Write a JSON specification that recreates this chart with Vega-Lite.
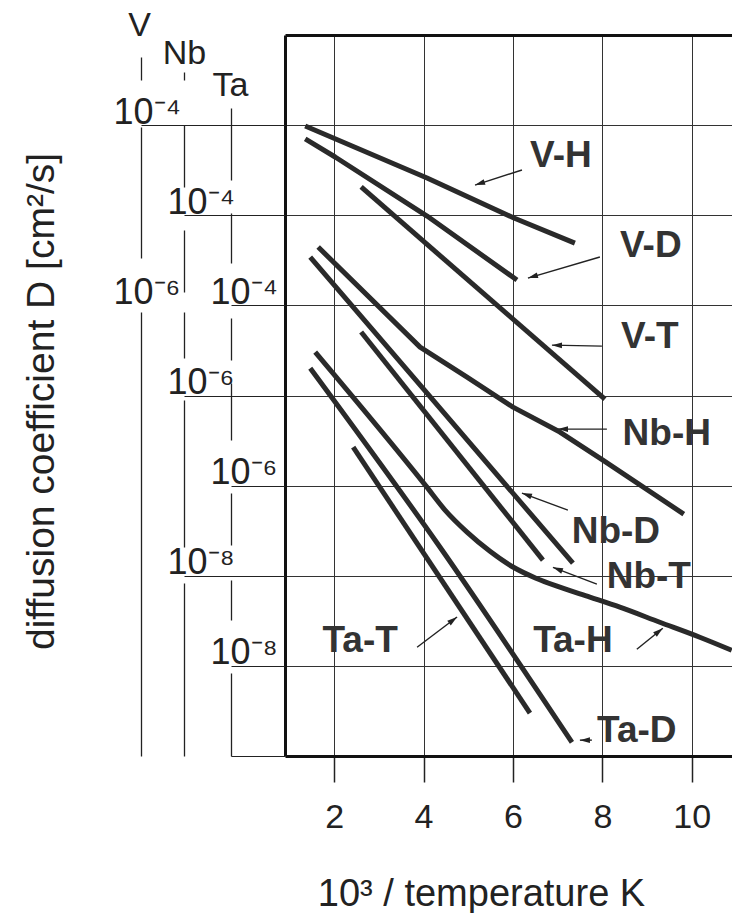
{
  "$schema": "https://vega.github.io/schema/vega-lite/v6.json",
  "width": 447,
  "height": 721,
  "autosize": {"type": "none"},
  "padding": {"left": 285, "top": 35, "right": 0, "bottom": 157},
  "background": "white",
  "config": {
    "view": {"stroke": null},
    "font": "Liberation Sans",
    "axis": {"labelFont": "Liberation Sans", "titleFont": "Liberation Sans", "labelOverlap": false, "labelBound": false, "labelFlush": false}
  },
  "datasets": {
    "curves": [
      {"metal": "V", "pair": "V-H", "x": 1.352, "D": 9.77e-5},
      {"metal": "V", "pair": "V-H", "x": 4.078, "D": 2.59e-5},
      {"metal": "V", "pair": "V-H", "x": 6.022, "D": 9.31e-6},
      {"metal": "V", "pair": "V-H", "x": 7.385, "D": 4.91e-6},
      {"metal": "V", "pair": "V-D", "x": 1.352, "D": 7.02e-5},
      {"metal": "V", "pair": "V-D", "x": 2.022, "D": 4.43e-5},
      {"metal": "V", "pair": "V-D", "x": 4.078, "D": 9.79e-6},
      {"metal": "V", "pair": "V-D", "x": 6.089, "D": 1.91e-6},
      {"metal": "V", "pair": "V-T", "x": 2.603, "D": 2.06e-5},
      {"metal": "V", "pair": "V-T", "x": 8.056, "D": 9.12e-8},
      {"metal": "Nb", "pair": "Nb-H", "x": 1.642, "D": 4.44e-5},
      {"metal": "Nb", "pair": "Nb-H", "x": 3.922, "D": 3.44e-6},
      {"metal": "Nb", "pair": "Nb-H", "x": 4.972, "D": 1.6e-6},
      {"metal": "Nb", "pair": "Nb-H", "x": 6.0, "D": 7.43e-7},
      {"metal": "Nb", "pair": "Nb-H", "x": 7.05, "D": 3.93e-7},
      {"metal": "Nb", "pair": "Nb-H", "x": 8.011, "D": 1.92e-7},
      {"metal": "Nb", "pair": "Nb-H", "x": 9.821, "D": 4.83e-8},
      {"metal": "Nb", "pair": "Nb-D", "x": 1.464, "D": 3.44e-5},
      {"metal": "Nb", "pair": "Nb-D", "x": 4.078, "D": 1.06e-6},
      {"metal": "Nb", "pair": "Nb-D", "x": 7.341, "D": 1.38e-8},
      {"metal": "Nb", "pair": "Nb-T", "x": 2.603, "D": 5.06e-6},
      {"metal": "Nb", "pair": "Nb-T", "x": 6.67, "D": 1.49e-8},
      {"metal": "Ta", "pair": "Ta-H", "x": 1.575, "D": 3.03e-5},
      {"metal": "Ta", "pair": "Ta-H", "x": 4.056, "D": 9.86e-7},
      {"metal": "Ta", "pair": "Ta-H", "x": 4.48, "D": 5.35e-7},
      {"metal": "Ta", "pair": "Ta-H", "x": 4.972, "D": 3.05e-7},
      {"metal": "Ta", "pair": "Ta-H", "x": 5.486, "D": 1.87e-7},
      {"metal": "Ta", "pair": "Ta-H", "x": 6.0, "D": 1.25e-7},
      {"metal": "Ta", "pair": "Ta-H", "x": 6.514, "D": 9.39e-8},
      {"metal": "Ta", "pair": "Ta-H", "x": 7.05, "D": 7.46e-8},
      {"metal": "Ta", "pair": "Ta-H", "x": 7.721, "D": 5.79e-8},
      {"metal": "Ta", "pair": "Ta-H", "x": 8.391, "D": 4.48e-8},
      {"metal": "Ta", "pair": "Ta-H", "x": 9.285, "D": 3.05e-8},
      {"metal": "Ta", "pair": "Ta-H", "x": 10.179, "D": 2.08e-8},
      {"metal": "Ta", "pair": "Ta-H", "x": 10.894, "D": 1.49e-8},
      {"metal": "Ta", "pair": "Ta-D", "x": 1.464, "D": 2.01e-5},
      {"metal": "Ta", "pair": "Ta-D", "x": 4.369, "D": 2.07e-7},
      {"metal": "Ta", "pair": "Ta-D", "x": 7.318, "D": 1.42e-9},
      {"metal": "Ta", "pair": "Ta-T", "x": 2.425, "D": 2.67e-6},
      {"metal": "Ta", "pair": "Ta-T", "x": 6.38, "D": 2.99e-9}
    ],
    "labels": [
      {"label": "V-H", "x": 7.073, "y": 3.43e-5},
      {"label": "V-D", "x": 9.084, "y": 3.44e-6},
      {"label": "V-T", "x": 9.061, "y": 3.36e-7},
      {"label": "Nb-H", "x": 9.441, "y": 2.81e-8},
      {"label": "Nb-D", "x": 8.302, "y": 2.3e-9},
      {"label": "Nb-T", "x": 9.039, "y": 7.28e-10},
      {"label": "Ta-T", "x": 2.581, "y": 1.42e-10},
      {"label": "Ta-H", "x": 7.341, "y": 1.42e-10},
      {"label": "Ta-D", "x": 8.771, "y": 1.42e-11}
    ],
    "arrows": [
      {"pair": "V-H", "x": 6.201, "y": 3.18e-5, "x2": 5.151, "y2": 2.16e-5, "dir": 252},
      {"pair": "V-D", "x": 7.944, "y": 3.44e-6, "x2": 6.335, "y2": 2.01e-6, "dir": 254},
      {"pair": "V-T", "x": 7.989, "y": 3.53e-7, "x2": 6.872, "y2": 3.62e-7, "dir": 271},
      {"pair": "Nb-H", "x": 8.101, "y": 4.24e-8, "x2": 7.006, "y2": 4.24e-8, "dir": 270},
      {"pair": "Nb-D", "x": 7.229, "y": 5.35e-9, "x2": 6.201, "y2": 8.26e-9, "dir": 290},
      {"pair": "Nb-T", "x": 7.877, "y": 8.07e-10, "x2": 6.894, "y2": 1.24e-9, "dir": 291},
      {"pair": "Ta-H", "x": 8.771, "y": 1.53e-10, "x2": 9.352, "y2": 2.62e-10, "dir": 51},
      {"pair": "Ta-T", "x": 3.855, "y": 1.61e-10, "x2": 4.749, "y2": 3.48e-10, "dir": 53},
      {"pair": "Ta-D", "x": 7.765, "y": 1.5e-11, "x2": 7.497, "y2": 1.5e-11, "dir": 270}
    ]
  },
  "layer": [
    {
      "data": {"name": "labels"},
      "mark": {"type": "text", "fontSize": 37, "fontWeight": "bold", "fill": "#333", "align": "center", "baseline": "alphabetic"},
      "encoding": {
        "x": {
          "field": "x", "type": "quantitative",
          "scale": {"domain": [0.9, 10.9], "nice": false, "zero": false},
          "axis": {
            "orient": "bottom", "values": [2, 4, 6, 8, 10],
            "domain": true, "domainWidth": 3, "domainColor": "#111",
            "ticks": true, "tickSize": 26, "tickWidth": 1.5, "tickColor": "#222",
            "labels": true, "labelFontSize": 34, "labelColor": "#222", "labelPadding": 45, "labelBaseline": "alphabetic",
            "grid": true, "gridColor": "#333", "gridWidth": 1,
            "title": "10³ / temperature K", "titleFontSize": 38, "titleFontWeight": "normal", "titleColor": "#222",
            "titleX": 196, "titleY": 149, "titleAlign": "center", "titleBaseline": "alphabetic"
          }
        },
        "y": {
          "field": "y", "type": "quantitative",
          "scale": {"type": "log", "domain": [1e-11, 1e-3], "nice": false},
          "axis": {
            "orient": "left", "offset": 0,
            "domain": true, "domainWidth": 3, "domainColor": "#111",
            "ticks": false, "labels": false,
            "grid": true, "gridColor": "#333", "gridWidth": 1,
            "values": [1e-4, 1e-5, 1e-6, 1e-7, 1e-8, 1e-9, 1e-10],
            "title": "diffusion coefficient D [cm²/s]", "titleFontSize": 39, "titleFontWeight": "normal", "titleColor": "#222",
            "titleAngle": 270, "titleX": -232, "titleY": 366, "titleAlign": "center", "titleBaseline": "alphabetic"
          }
        },
        "text": {"field": "label"}
      }
    },
    {
      "data": {"name": "arrows"},
      "mark": {"type": "rule", "stroke": "#222", "strokeWidth": 1.4},
      "encoding": {
        "x": {"field": "x", "type": "quantitative", "scale": {"domain": [0.9, 10.9], "nice": false, "zero": false}, "axis": null},
        "x2": {"field": "x2"},
        "y": {"field": "y", "type": "quantitative", "scale": {"type": "log", "domain": [1e-11, 1e-3], "nice": false}, "axis": null},
        "y2": {"field": "y2"}
      }
    },
    {
      "data": {"name": "arrows"},
      "mark": {"type": "point", "shape": "M0,0L0.35,1.2L-0.35,1.2Z", "filled": true, "fill": "#222", "opacity": 1, "size": 280, "strokeWidth": 0},
      "encoding": {
        "x": {"field": "x2", "type": "quantitative", "scale": {"domain": [0.9, 10.9], "nice": false, "zero": false}, "axis": null},
        "y": {"field": "y2", "type": "quantitative", "scale": {"type": "log", "domain": [1e-11, 1e-3], "nice": false}, "axis": null},
        "angle": {"field": "dir", "type": "quantitative", "scale": null}
      }
    },
    {
      "data": {"name": "curves"},
      "transform": [{"filter": "datum.metal === 'V'"}],
      "mark": {"type": "line", "stroke": "#2a2a2a", "strokeWidth": 5, "interpolate": "linear", "strokeCap": "butt", "strokeJoin": "round"},
      "encoding": {
        "x": {
          "field": "x", "type": "quantitative",
          "scale": {"domain": [0.9, 10.9], "nice": false, "zero": false},
          "axis": {"orient": "top", "domain": true, "domainWidth": 3, "domainColor": "#111", "ticks": false, "labels": false, "grid": false, "title": null}
        },
        "y": {
          "field": "D", "type": "quantitative",
          "scale": {"type": "log", "domain": [1e-11, 1e-3], "nice": false},
          "axis": {
            "orient": "left", "offset": 144, "values": [1e-4, 1e-6],
            "labelExpr": "datum.value > 5e-5 ? '10⁻⁴' : '10⁻⁶'",
            "labelAlign": "left", "labelBaseline": "alphabetic", "labelOffset": -2, "labelPadding": 172,
            "labelFontSize": 36, "labelColor": "#222",
            "ticks": true, "tickSize": -144, "tickWidth": 1, "tickColor": "#222",
            "tickOpacity": {"condition": {"test": "datum.value > 5e-5", "value": 1}, "value": 0},
            "grid": false,
            "domain": true, "domainWidth": 1.3, "domainColor": "#222", "domainDash": [444, 54, 131, 47, 23, 800],
            "title": "V", "titleFontSize": 34, "titleFontWeight": "normal", "titleColor": "#222", "titleAngle": 0,
            "titleX": -2, "titleY": 0, "titleAlign": "center", "titleBaseline": "alphabetic"
          }
        },
        "detail": {"field": "pair"}
      }
    },
    {
      "data": {"name": "curves"},
      "transform": [{"filter": "datum.metal === 'Nb'"}],
      "mark": {"type": "line", "stroke": "#2a2a2a", "strokeWidth": 5, "interpolate": "linear", "strokeCap": "butt", "strokeJoin": "round"},
      "encoding": {
        "x": {"field": "x", "type": "quantitative", "scale": {"domain": [0.9, 10.9], "nice": false, "zero": false}, "axis": null},
        "y": {
          "field": "D", "type": "quantitative",
          "scale": {"type": "log", "domain": [1e-10, 1e-2], "nice": false},
          "axis": {
            "orient": "left", "offset": 101, "values": [1e-4, 1e-6, 1e-8],
            "labelExpr": "datum.value > 5e-5 ? '10⁻⁴' : datum.value > 5e-7 ? '10⁻⁶' : '10⁻⁸'",
            "labelAlign": "left", "labelBaseline": "alphabetic", "labelOffset": -2, "labelPadding": 118,
            "labelFontSize": 36, "labelColor": "#222",
            "ticks": true, "tickSize": -101, "tickWidth": 1, "tickColor": "#222",
            "grid": false,
            "domain": true, "domainWidth": 1.3, "domainColor": "#222", "domainDash": [173, 36, 147, 42, 46, 20, 62, 43, 62, 45, 8, 800],
            "title": "Nb", "titleFontSize": 34, "titleFontWeight": "normal", "titleColor": "#222", "titleAngle": 0,
            "titleX": 0, "titleY": 28, "titleAlign": "center", "titleBaseline": "alphabetic"
          }
        },
        "detail": {"field": "pair"}
      }
    },
    {
      "data": {"name": "curves"},
      "transform": [{"filter": "datum.metal === 'Ta'"}],
      "mark": {"type": "line", "stroke": "#2a2a2a", "strokeWidth": 5, "interpolate": "monotone", "strokeCap": "butt", "strokeJoin": "round"},
      "encoding": {
        "x": {"field": "x", "type": "quantitative", "scale": {"domain": [0.9, 10.9], "nice": false, "zero": false}, "axis": null},
        "y": {
          "field": "D", "type": "quantitative",
          "scale": {"type": "log", "domain": [1e-9, 1e-1], "nice": false},
          "axis": {
            "orient": "left", "offset": 54, "values": [1e-4, 1e-6, 1e-8, 1e-9],
            "labelExpr": "datum.value > 5e-5 ? '10⁻⁴' : datum.value > 5e-7 ? '10⁻⁶' : datum.value > 5e-9 ? '10⁻⁸' : ''",
            "labelAlign": "left", "labelBaseline": "alphabetic", "labelOffset": -2, "labelPadding": 75,
            "labelFontSize": 36, "labelColor": "#222",
            "ticks": true, "tickSize": -54, "tickWidth": 1, "tickColor": "#222",
            "grid": false,
            "domain": true, "domainWidth": 1.3, "domainColor": "#222", "domainDash": [83, 53, 40, 35, 52, 53, 57, 23, 42, 55, 50, 33, 72, 800],
            "title": "Ta", "titleFontSize": 34, "titleFontWeight": "normal", "titleColor": "#222", "titleAngle": 0,
            "titleX": -1, "titleY": 60, "titleAlign": "center", "titleBaseline": "alphabetic"
          }
        },
        "detail": {"field": "pair"}
      }
    }
  ],
  "resolve": {"scale": {"y": "independent"}, "axis": {"x": "independent", "y": "independent"}}
}
